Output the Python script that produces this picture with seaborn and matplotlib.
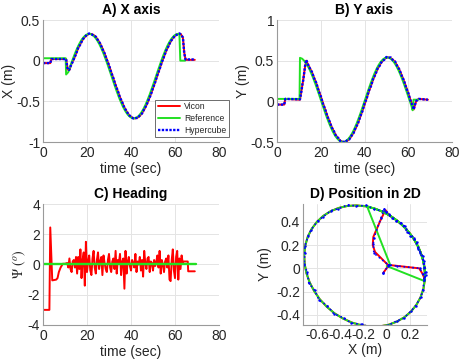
import numpy as np
import pandas as pd
import matplotlib
matplotlib.use("Agg")
import matplotlib.pyplot as plt
import seaborn as sns

# ---- data ----
# Vicon (ground truth) trajectory
t_vicon = [0, 3.3, 3.8, 10.5, 11.2, 11.6, 12.0, 12.8, 13.4,
           14, 15, 16, 17, 18, 19, 20, 21, 22, 23, 24, 25, 26, 27, 28, 29,
           30, 31, 32, 33, 34, 35, 36, 37, 38, 39, 40, 41, 42, 43, 44, 45,
           46, 47, 48, 49, 50, 51, 52, 53, 54, 55, 56, 57, 58, 59, 60, 61, 62,
           62.5, 63.0, 63.6, 64.2, 64.8, 69.0]
x_vicon = [-0.03, -0.03, 0.02, 0.02, -0.10, -0.12, -0.115, -0.05, -0.01,
           0.016, 0.087, 0.152, 0.208, 0.255, 0.291, 0.316, 0.328, 0.328, 0.316,
           0.291, 0.255, 0.208, 0.152, 0.087, 0.016, -0.060, -0.140, -0.220,
           -0.300, -0.377, -0.450, -0.516, -0.575, -0.624, -0.663, -0.691,
           -0.706, -0.710, -0.700, -0.679, -0.645, -0.601, -0.547, -0.484,
           -0.414, -0.339, -0.260, -0.180, -0.100, -0.022, 0.052, 0.121, 0.181,
           0.233, 0.275, 0.305, 0.324, 0.330,
           0.33, 0.31, 0.28, 0.10, 0.01, 0.01]
y_vicon = [-0.04, -0.04, 0.03, 0.02, 0.14, 0.20, 0.27, 0.42, 0.50,
           0.460, 0.412, 0.354, 0.289, 0.217, 0.140, 0.060, -0.020, -0.100,
           -0.177, -0.249, -0.314, -0.372, -0.420, -0.457, -0.484, -0.498,
           -0.499, -0.488, -0.465, -0.430, -0.385, -0.329, -0.266, -0.195,
           -0.120, -0.040, 0.040, 0.120, 0.198, 0.271, 0.339, 0.398, 0.449,
           0.489, 0.518, 0.535, 0.540, 0.532, 0.512, 0.480, 0.437, 0.384,
           0.322, 0.253, 0.179, 0.100, 0.020, -0.060,
           -0.10, -0.05, 0.0, 0.02, 0.03, 0.02]

# Reference (commanded) trajectory
t_ref = [0, 10.3, 10.5, 11.5, 12.5,
         13.5, 14.5, 15.5, 16.5, 17.5, 18.5, 19.5, 20.5, 21.5, 22.5, 23.5,
         24.5, 25.5, 26.5, 27.5, 28.5, 29.5, 30.5, 31.5, 32.5, 33.5, 34.5,
         35.5, 36.5, 37.5, 38.5, 39.5, 40.5, 41.5, 42.5, 43.5, 44.5, 45.5,
         46.5, 47.5, 48.5, 49.5, 50.5, 51.5, 52.5, 53.5, 54.5, 55.5, 56.5,
         57.5, 58.5, 59.5, 60.5, 61.5,
         62.0, 62.4, 64.6]
x_ref = [0.03, 0.03, -0.17, -0.140, -0.060,
         0.016, 0.087, 0.152, 0.208, 0.255, 0.291, 0.316, 0.328, 0.328, 0.316,
         0.291, 0.255, 0.208, 0.152, 0.087, 0.016, -0.060, -0.140, -0.220,
         -0.300, -0.377, -0.450, -0.516, -0.575, -0.624, -0.663, -0.691,
         -0.706, -0.710, -0.700, -0.679, -0.645, -0.601, -0.547, -0.484,
         -0.414, -0.339, -0.260, -0.180, -0.100, -0.022, 0.052, 0.121, 0.181,
         0.233, 0.275, 0.305, 0.324, 0.330,
         0.328, 0.0, 0.0]
y_ref = [0.03, 0.03, 0.535, 0.524, 0.497,
         0.460, 0.412, 0.354, 0.289, 0.217, 0.140, 0.060, -0.020, -0.100,
         -0.177, -0.249, -0.314, -0.372, -0.420, -0.457, -0.484, -0.498,
         -0.499, -0.488, -0.465, -0.430, -0.385, -0.329, -0.266, -0.195,
         -0.120, -0.040, 0.040, 0.120, 0.198, 0.271, 0.339, 0.398, 0.449,
         0.489, 0.518, 0.535, 0.540, 0.532, 0.512, 0.480, 0.437, 0.384,
         0.322, 0.253, 0.179, 0.100, 0.020, -0.060,
         -0.11, 0.02, 0.02]

# Hypercube estimate (same sample times as Vicon)
x_hyper = [-0.03, -0.03, 0.02, 0.02, -0.11, -0.115, -0.11, -0.05, -0.02,
           0.02, 0.08, 0.16, 0.20, 0.26, 0.29, 0.32, 0.335, 0.325, 0.31,
           0.295, 0.25, 0.21, 0.145, 0.09, 0.01, -0.055, -0.145, -0.215,
           -0.305, -0.37, -0.455, -0.51, -0.58, -0.62, -0.67, -0.685, -0.71,
           -0.705, -0.705, -0.675, -0.65, -0.595, -0.55, -0.48, -0.42, -0.335,
           -0.265, -0.175, -0.105, -0.018, 0.048, 0.125, 0.176, 0.238, 0.27,
           0.31, 0.32, 0.335,
           0.325, 0.31, 0.285, 0.09, 0.015, 0.015]
y_hyper = [-0.04, -0.04, 0.03, 0.025, 0.13, 0.21, 0.26, 0.43, 0.51,
           0.465, 0.405, 0.36, 0.28, 0.225, 0.13, 0.065, -0.03, -0.095,
           -0.185, -0.245, -0.32, -0.365, -0.43, -0.45, -0.49, -0.495, -0.505,
           -0.48, -0.47, -0.425, -0.39, -0.32, -0.275, -0.19, -0.125, -0.03,
           0.035, 0.13, 0.19, 0.28, 0.33, 0.405, 0.44, 0.495, 0.51, 0.545,
           0.535, 0.54, 0.505, 0.49, 0.43, 0.39, 0.315, 0.26, 0.17, 0.105,
           0.01, -0.055,
           -0.10, -0.05, 0.0, 0.02, 0.03, 0.02]

# Heading (deg)
t_psi = [0, 2.9, 3.3, 4.2, 6.0, 6.6, 7.2, 8.0, 9.0, 10.0,
         11.0, 11.5, 12.0, 12.5, 13.0, 13.5, 14.0, 14.5, 15.0, 15.5, 16.0,
         16.5, 17.0, 17.5, 18.0, 18.5, 19.0, 19.5, 20.0, 20.5, 21.0, 21.5,
         22.0, 22.5, 23.0, 23.5, 24.0, 24.5, 25.0, 25.5, 26.0, 26.5, 27.0,
         27.5, 28.0, 28.5, 29.0, 29.5, 30.0, 30.5, 31.0, 31.5, 32.0, 32.5,
         33.0, 33.5, 34.0, 34.5, 35.0, 35.5, 36.0, 36.5, 37.0, 37.5, 38.0,
         38.5, 39.0, 39.5, 40.0, 40.5, 41.0, 41.5, 42.0, 42.5, 43.0, 43.5,
         44.0, 44.5, 45.0, 45.5, 46.0, 46.5, 47.0, 47.5, 48.0, 48.5, 49.0,
         49.5, 50.0, 50.5, 51.0, 51.5, 52.0, 52.5, 53.0, 53.5, 54.0, 54.5,
         55.0, 55.5, 56.0, 56.5, 57.0, 57.5, 58.0, 58.5, 59.0, 59.5, 60.0,
         60.5, 61.0, 61.5, 62.0, 62.5, 63.0, 63.5, 64.0, 64.5, 65.0, 65.8,
         66.0, 69.0]
psi_vicon = [-3.0, -3.0, 2.45, -1.05, -1.0, -0.9, -0.5, -0.2, 0.05, 0.05,
             0.1, -0.2, 0.4, -0.3, -0.5, 0.2, 0.3, -0.2, 0.5, -0.6, 0.5,
             -0.3, 1.0, -0.9, 0.3, 0.8, -1.4, 1.5, -0.5, 0.2, 0.6, -0.4,
             -0.7, 0.4, 0.9, -0.2, -0.6, 0.3, 0.8, -0.3, 0.2, 0.5, -0.7,
             0.6, 0.1, -0.3, -0.5, 0.3, 0.7, -0.2, -0.5, 0.2, 0.4, -0.3,
             0.9, -0.6, 0.3, 0.1, 0.7, -0.7, 0.2, 0.4, -1.6, 0.9, -0.6,
             0.2, 0.5, -0.1, -0.4, 0.3, 0.1, -0.2, 0.7, -0.5, 0.2, 0.0,
             0.5, -0.4, 0.3, -0.8, 0.9, 0.1, -0.3, 0.4, 0.5, -0.5, 0.2,
             0.1, -0.4, 0.3, -0.1, 0.2, 0.6, -0.2, 0.9, -0.6, 0.3, 0.0,
             -0.5, 0.2, 0.4, -0.2, 0.6, -1.0, -1.1, 0.3, 1.0, -0.4, -0.9,
             0.5, 0.9, -1.0, 0.4, -0.3, 0.6, 0.1, 0.2, 0.2, 0.2, 0.2,
             -0.45, -0.45]
t_psi_ref = [0, 69.5]
psi_ref = [0, 0]

RED = "#ff0000"
GREEN = "#22e022"
BLUE = "#0000ff"
TXT = "#262626"

sns.set_theme(style="whitegrid")
plt.rcParams["font.family"] = ["Liberation Sans", "DejaVu Sans"]
plt.rcParams["mathtext.fontset"] = "stix"
plt.rcParams["axes.unicode_minus"] = False

fig = plt.figure(figsize=(4.6, 3.63), dpi=100)
fig.patch.set_facecolor("white")

axA = fig.add_axes([0.0935, 0.6088, 0.3826, 0.3361])
axB = fig.add_axes([0.6022, 0.6088, 0.3804, 0.3361])
axC = fig.add_axes([0.0935, 0.1047, 0.3826, 0.3333])
axD = fig.add_axes([0.6587, 0.1047, 0.2696, 0.3333])


def style(ax, title, xlabel, ylabel):
    ax.set_facecolor("white")
    ax.grid(True, color="#e4e4e4", linewidth=0.7)
    for side in ["top", "right"]:
        ax.spines[side].set_visible(False)
    for side in ["left", "bottom"]:
        ax.spines[side].set_visible(True)
        ax.spines[side].set_color("#9a9a9a")
        ax.spines[side].set_linewidth(0.8)
    ax.tick_params(axis="both", labelsize=10, colors=TXT, length=2,
                   direction="in")
    ax.tick_params(axis="x", pad=3)
    ax.tick_params(axis="y", pad=2)
    ax.tick_params(axis="both", color="#9a9a9a")
    ax.set_title(title, fontsize=10, fontweight="bold", color="black", pad=4)
    ax.set_xlabel(xlabel, fontsize=10, color=TXT, labelpad=1)
    ax.set_ylabel(ylabel, fontsize=10, color=TXT, labelpad=0)


lw = 1.4
hyper_kw = dict(color=BLUE, lw=1.7, dashes=(1.0, 0.6))

# A) X axis
sns.lineplot(x=t_vicon, y=x_vicon, ax=axA, color=RED, lw=lw, label="Vicon",
             sort=False, estimator=None)
sns.lineplot(x=t_ref, y=x_ref, ax=axA, color=GREEN, lw=lw, label="Reference",
             sort=False, estimator=None)
sns.lineplot(x=t_vicon, y=x_hyper, ax=axA, label="Hypercube", sort=False,
             estimator=None, **hyper_kw)
axA.set_xlim(0, 80)
axA.set_ylim(-1, 0.5)
axA.set_xticks([0, 20, 40, 60, 80])
axA.set_yticks([-1, -0.5, 0, 0.5])
axA.set_yticklabels(["-1", "-0.5", "0", "0.5"])
style(axA, "A) X axis", "time (sec)", "X (m)")
leg = axA.legend(loc="lower right", bbox_to_anchor=(1.057, 0.04), fontsize=6.2,
                 frameon=True, fancybox=False, handlelength=2.6,
                 borderpad=0.3, labelspacing=0.3, handletextpad=0.5,
                 borderaxespad=0)
leg.get_frame().set_edgecolor("#555555")
leg.get_frame().set_linewidth(0.6)
leg.get_frame().set_alpha(1)
for txt in leg.get_texts():
    txt.set_color(TXT)

# B) Y axis
sns.lineplot(x=t_vicon, y=y_vicon, ax=axB, color=RED, lw=lw, sort=False,
             estimator=None)
sns.lineplot(x=t_ref, y=y_ref, ax=axB, color=GREEN, lw=lw, sort=False,
             estimator=None)
sns.lineplot(x=t_vicon, y=y_hyper, ax=axB, sort=False, estimator=None,
             **hyper_kw)
axB.set_xlim(0, 80)
axB.set_ylim(-0.5, 1)
axB.set_xticks([0, 20, 40, 60, 80])
axB.set_yticks([-0.5, 0, 0.5, 1])
axB.set_yticklabels(["-0.5", "0", "0.5", "1"])
style(axB, "B) Y axis", "time (sec)", "Y (m)")

# C) Heading
sns.lineplot(x=t_psi, y=psi_vicon, ax=axC, color=RED, lw=lw, sort=False,
             estimator=None)
sns.lineplot(x=t_psi_ref, y=psi_ref, ax=axC, color=GREEN, lw=lw + 0.3,
             sort=False, estimator=None)
axC.set_xlim(0, 80)
axC.set_ylim(-4, 4)
axC.set_xticks([0, 20, 40, 60, 80])
axC.set_yticks([-4, -2, 0, 2, 4])
axC.set_yticklabels(["-4", "-2", "0", "2", "4"])
style(axC, "C) Heading", "time (sec)", r"$\Psi\ (^o)$")

# D) Position in 2D
sns.lineplot(x=x_vicon, y=y_vicon, ax=axD, color=RED, lw=lw, sort=False,
             estimator=None)
sns.lineplot(x=x_ref, y=y_ref, ax=axD, color=GREEN, lw=lw, sort=False,
             estimator=None)
sns.lineplot(x=x_hyper, y=y_hyper, ax=axD, color=BLUE, lw=1.2, ls=":",
             marker=".", markersize=3.5, markeredgewidth=0, sort=False,
             estimator=None)
axD.set_xlim(-0.72, 0.347)
axD.set_ylim(-0.486, 0.552)
axD.set_xticks([-0.6, -0.4, -0.2, 0, 0.2])
axD.set_xticklabels(["-0.6", "-0.4", "-0.2", "0", "0.2"])
axD.set_yticks([-0.4, -0.2, 0, 0.2, 0.4])
axD.set_yticklabels(["-0.4", "-0.2", "0", "0.2", "0.4"])
style(axD, "D) Position in 2D", "X (m)", "Y (m)")
axD.tick_params(axis="x", pad=2)
axD.yaxis.labelpad = 3

fig.savefig("out.png", dpi=100, facecolor="white")
